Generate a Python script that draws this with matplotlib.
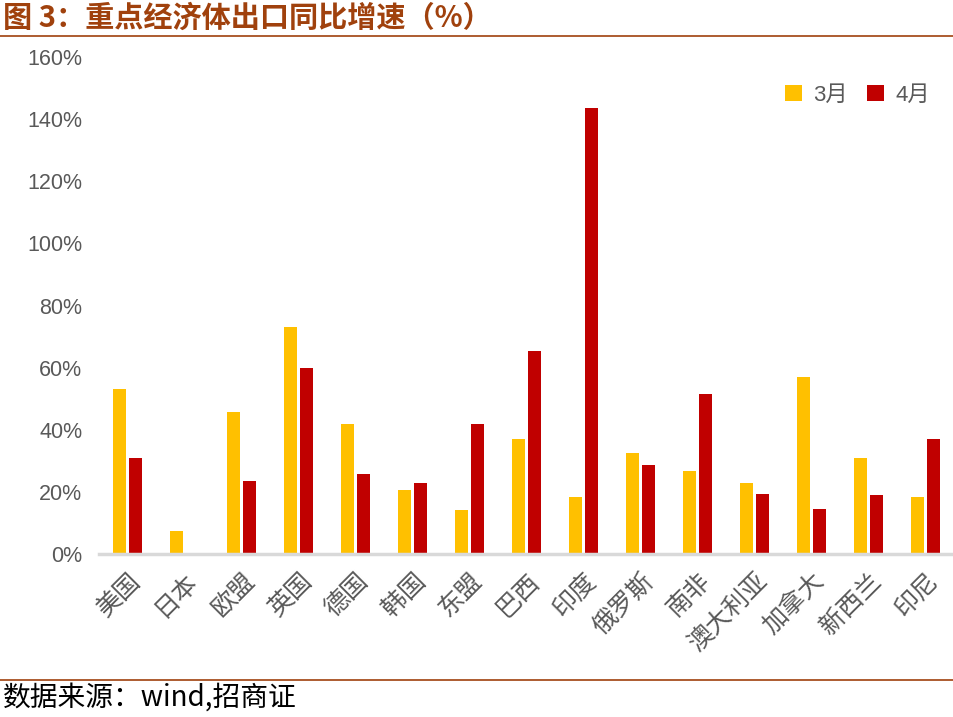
import numpy as np
import matplotlib.pyplot as plt

plt.rcParams['font.family'] = ['Liberation Sans', 'Noto Sans CJK SC', 'DejaVu Sans']

# data (%)
countries = ['美国', '日本', '欧盟', '英国', '德国', '韩国', '东盟', '巴西',
             '印度', '俄罗斯', '南非', '澳大利亚', '加拿大', '新西兰', '印尼']
mar = [53.1, 7.4, 45.7, 73.1, 41.9, 20.6, 14.2, 37.0,
       18.4, 32.5, 26.7, 22.9, 57.0, 30.9, 18.4]
apr = [30.9, 0.0, 23.5, 59.9, 25.8, 22.9, 41.9, 65.4,
       143.6, 28.7, 51.5, 19.3, 14.5, 19.0, 37.0]

yellow = '#FFC000'
red = '#C00000'
gray = '#595959'
brown = '#A0410D'

fig = plt.figure(figsize=(9.54, 7.17), dpi=100)
ax = fig.add_axes([0.1038, 0.2273, 0.8962, 0.6932])

x = np.arange(len(countries))
w = 0.23
ax.bar(x - 0.145, mar, width=w, color=yellow, label='3月')
ax.bar(x + 0.145, apr, width=w, color=red, label='4月')

ax.set_xlim(-0.5, len(countries) - 0.5)
ax.set_ylim(0, 160)
ax.set_yticks(np.arange(0, 161, 20))
ax.set_yticklabels([f'{v}%' for v in range(0, 161, 20)], fontsize=15.5, color=gray)
ax.set_xticks(x)
ax.set_xticklabels(countries, rotation=45, ha='right', va='top', rotation_mode='anchor',
                   fontsize=18, color=gray, family=['Noto Sans CJK SC'])
ax.tick_params(axis='both', length=0)
ax.tick_params(axis='y', pad=12)
ax.tick_params(axis='x', pad=10)

for s in ['top', 'right', 'left']:
    ax.spines[s].set_visible(False)
ax.spines['bottom'].set_color('#D9D9D9')
ax.spines['bottom'].set_linewidth(2.5)

leg = ax.legend(loc='upper right', bbox_to_anchor=(0.995, 0.985), ncol=2, frameon=False,
                handlelength=0.75, handleheight=0.75, columnspacing=0.9,
                handletextpad=0.5, prop={'family': ['Liberation Sans', 'Noto Sans CJK SC'], 'size': 16})
for t in leg.get_texts():
    t.set_color(gray)

# title and source
fig.text(0.003, 0.975, '图 3：重点经济体出口同比增速（%）', fontsize=21, fontweight='bold',
         color=brown, ha='left', va='center', family=['Noto Sans CJK SC'])
fig.add_artist(plt.Line2D([0, 1], [0.9498, 0.9498], color=brown, linewidth=1.2))
fig.add_artist(plt.Line2D([0, 1], [0.0516, 0.0516], color=brown, linewidth=1.2))
fig.text(0.003, 0.027, '数据来源：wind,招商证', fontsize=20, color='black',
         ha='left', va='center', family=['Noto Sans CJK SC', 'Liberation Sans'])

fig.savefig('out.png', dpi=100)
